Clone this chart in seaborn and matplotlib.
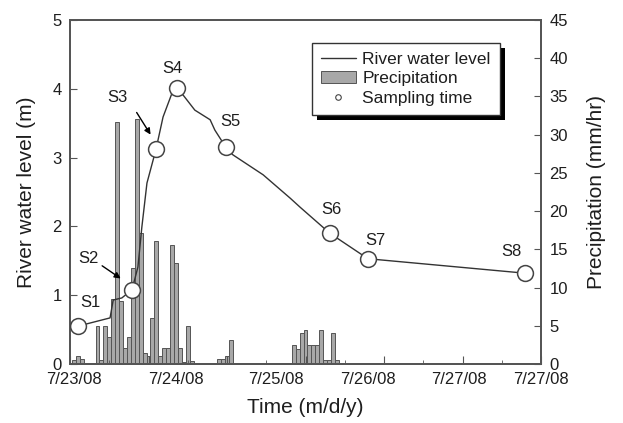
import numpy as np
import pandas as pd
import seaborn as sns
import matplotlib
matplotlib.use("Agg")
import matplotlib.pyplot as plt
from matplotlib.lines import Line2D
from matplotlib.patches import Patch, Rectangle

# time axis is in hours after the start of 7/23/08
level_hours = [2.0, 10.2, 11.0, 13.2, 15.8, 17.3, 18.3, 19.6, 21.9, 23.7, 26.0, 27.3,
               28.8, 31.8, 35.7, 36.9, 39.7, 41.5, 49.2, 56.1, 58.6, 66.2, 75.9, 115.9]
level_m = [0.55, 0.67, 0.93, 0.96, 1.08, 1.41, 1.99, 2.63, 3.12, 3.59, 3.94, 4.01,
           3.91, 3.69, 3.55, 3.40, 3.15, 3.04, 2.75, 2.41, 2.28, 1.90, 1.53, 1.32]

sample_names = ["S1", "S2", "S3", "S4", "S5", "S6", "S7", "S8"]
sample_hours = [2.0, 15.8, 21.9, 27.3, 39.7, 66.2, 75.9, 115.9]
sample_m = [0.55, 1.08, 3.12, 4.01, 3.15, 1.90, 1.53, 1.32]

precip_hours = [1, 2, 3, 7, 8, 9, 10, 11, 12, 13, 14, 15, 16, 17, 18, 19, 20, 21, 22,
                23, 24, 25, 26, 27, 28, 29, 30, 31, 38, 39, 40, 41,
                57, 58, 59, 60, 61, 62, 63, 64, 65, 66, 67, 68]
precip_mm = [0.5, 1.0, 0.6, 5.0, 0.5, 5.0, 3.5, 8.5, 31.6, 8.2, 2.1, 3.5, 12.6, 32.1,
             17.1, 1.5, 1.0, 6.0, 16.1, 1.0, 2.1, 2.1, 15.6, 13.2, 2.1, 0.3, 5.0, 0.4,
             0.6, 0.6, 1.0, 3.1,
             2.5, 2.0, 4.1, 4.5, 2.5, 2.5, 2.5, 4.5, 0.5, 0.5, 4.1, 0.5]

date_pos = [1, 27, 52.5, 76, 99, 120]
date_labels = ["7/23/08", "7/24/08", "7/25/08", "7/26/08", "7/27/08", "7/27/08"]

# label text positions (hours, m)
label_xy = [(5.1, 0.89), (4.6, 1.53), (12.0, 3.88), (26.0, 4.30),
            (40.8, 3.52), (66.5, 2.24), (77.9, 1.79), (112.4, 1.63)]

sns.set_style("ticks")
plt.rcParams["font.family"] = ["Liberation Sans", "DejaVu Sans"]
ink = "#1e1e1e"
axc = "#555555"

fig, ax = plt.subplots(figsize=(6.23, 4.23), dpi=100)
fig.subplots_adjust(left=0.1124, right=0.8684, bottom=0.1395, top=0.9527)
ax2 = ax.twinx()

ax2.bar(precip_hours, precip_mm, width=1.0, color="#a8a8a8", edgecolor="#555555",
        linewidth=0.7)

df_line = pd.DataFrame({"h": level_hours, "m": level_m})
sns.lineplot(data=df_line, x="h", y="m", sort=False, color="#333333", lw=1.0, ax=ax)
df_s = pd.DataFrame({"h": sample_hours, "m": sample_m})
sns.scatterplot(data=df_s, x="h", y="m", s=130, color="white", edgecolor="#444444",
                linewidth=1.1, zorder=5, ax=ax)

for name, (tx, ty) in zip(sample_names, label_xy):
    ax.text(tx, ty, name, fontsize=12, color=ink, ha="center", va="center")

arrow_kw = dict(arrowstyle="-|>", color="black", lw=1.0, mutation_scale=9)
ax.annotate("", xy=(13.5, 1.22), xytext=(7.6, 1.45), arrowprops=arrow_kw)
ax.annotate("", xy=(20.9, 3.30), xytext=(16.6, 3.69), arrowprops=arrow_kw)

ax.set_zorder(ax2.get_zorder() + 1)
ax.patch.set_visible(False)

ax.set_xlim(0, 120)
ax.set_ylim(0, 5)
ax2.set_ylim(0, 45)
ax.set_yticks(range(0, 6))
ax2.set_yticks(range(0, 46, 5))

# date labels sit off the tick marks, so labels and marks are kept apart
ax.set_xticks(date_pos)
ax.set_xticklabels(date_labels)
ax.set_xticks(range(10, 121, 20), minor=True)
ax.tick_params(axis="x", which="major", length=0, pad=6, labelsize=12, labelcolor=ink)
ax.tick_params(axis="x", which="minor", direction="in", length=3, color=axc)
sec = ax.secondary_xaxis("bottom")
sec.set_xticks(range(0, 121, 20))
sec.set_xticklabels([])
sec.tick_params(axis="x", direction="in", length=6, color=axc)
sec.spines["bottom"].set_color(axc)
sec.spines["bottom"].set_linewidth(1.3)

ax.tick_params(axis="y", direction="in", length=5, pad=6, labelsize=12,
               labelcolor=ink, color=axc)
ax2.tick_params(axis="y", direction="in", length=5, pad=6, labelsize=12,
                labelcolor=ink, color=axc)

for a in (ax, ax2):
    for sp in a.spines.values():
        sp.set_color(axc)
        sp.set_linewidth(1.3)

ax.set_xlabel("Time (m/d/y)", fontsize=15, color=ink)
ax.xaxis.set_label_coords(0.5, -0.1)
ax.set_ylabel("River water level (m)", fontsize=15, color=ink, labelpad=12)
ax2.set_ylabel("Precipitation (mm/hr)", fontsize=15, color=ink, labelpad=14)

handles = [
    Line2D([], [], color="#333333", lw=1.0),
    Patch(facecolor="#a8a8a8", edgecolor="#555555", lw=0.7),
    Line2D([], [], marker="o", ls="none", markersize=4, markerfacecolor="white",
           markeredgecolor="#444444", markeredgewidth=0.8),
]
leg = ax.legend(handles, ["River water level", "Precipitation", "Sampling time"],
                loc="upper left", bbox_to_anchor=(0.514, 0.933), borderaxespad=0,
                fontsize=12.5, frameon=True, fancybox=False, framealpha=1,
                edgecolor="#333333", handlelength=2.0, handletextpad=0.4,
                labelspacing=0.25, borderpad=0.5)
leg.get_frame().set_linewidth(1.0)
for t in leg.get_texts():
    t.set_color(ink)

# solid black drop shadow, offset a few pixels down-right
fig.canvas.draw()
bb = leg.get_window_extent()
shadow = Rectangle((bb.x0 + 5, bb.y0 - 5), bb.width, bb.height, transform=None,
                   facecolor="black", edgecolor="none", zorder=0.5)
fig.add_artist(shadow)

plt.savefig("out.png", dpi=100)
